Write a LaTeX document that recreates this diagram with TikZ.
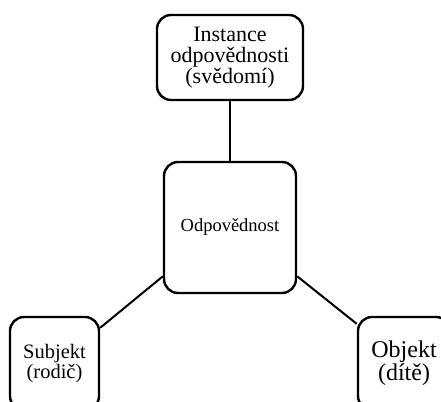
\documentclass[tikz,border=0pt]{standalone}
\usepackage{fontspec}
\setmainfont{Liberation Serif}
\tikzset{
  box/.style={draw, line width=2.4pt, rounded corners=14pt, align=center, inner sep=0pt},
  link/.style={line width=2pt},
}
\begin{document}
\begin{tikzpicture}[x=1pt,y=-1pt]
  \useasboundingbox (0,0) rectangle (441,401);
  \clip (0,0) rectangle (441,401);

  % Top box
  \node[box, minimum width=146pt, minimum height=85pt, font=\fontsize{22}{21}\selectfont] (svedomi) at (230,57.5) {Instance\\odpovědnosti\\(svědomí)};

  % Middle box
  \node[box, minimum width=132pt, minimum height=131pt, font=\fontsize{18.5}{20}\selectfont] (odpovednost) at (230,227.5) {Odpovědnost};

  % Bottom left box
  \node[box, minimum width=89pt, minimum height=93pt, font=\fontsize{20.5}{20}\selectfont] (subjekt) at (54.5,363.5) {Subjekt\\(rodič)};

  % Bottom right box
  \node[box, minimum width=92pt, minimum height=93pt, font=\fontsize{24}{21}\selectfont] (objekt) at (404,363.5) {Objekt\\(dítě)};

  % Connectors
  \draw[link] (svedomi) -- (odpovednost);
  \draw[link] (odpovednost.216) -- (subjekt.38);
  \draw[link] (odpovednost.-36) -- (objekt.140);
\end{tikzpicture}
\end{document}
